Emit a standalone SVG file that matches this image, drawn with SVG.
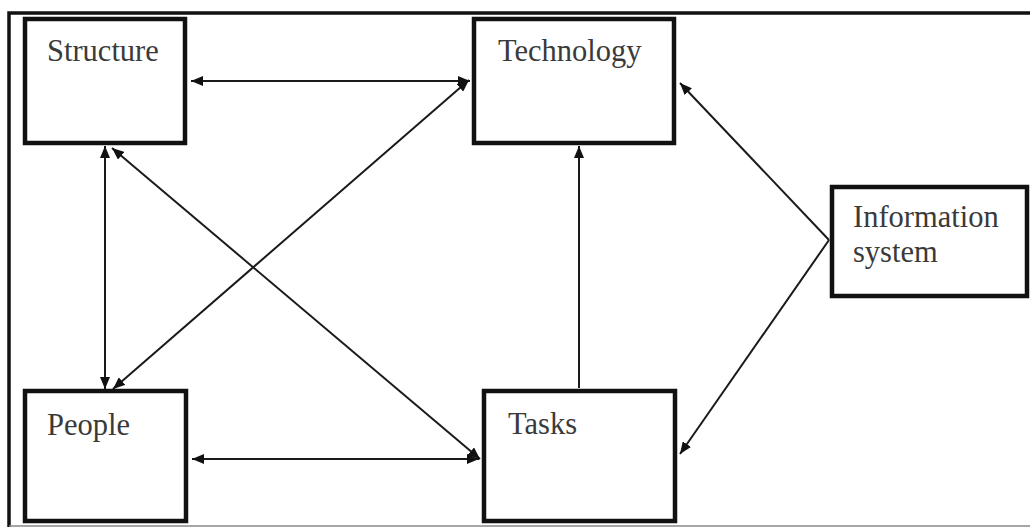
<svg xmlns="http://www.w3.org/2000/svg" width="1030" height="527" viewBox="0 0 1030 527">
  <style>
    .frame { fill: none; stroke: #111; stroke-width: 3.5; }
    .frame-base { fill: none; stroke: #888; stroke-width: 1.5; }
    .box { fill: #fff; stroke: #111; stroke-width: 4.5; }
    .label { font-family: "Liberation Serif", "Times New Roman", serif; font-size: 30.5px; fill: #3a3a3a; }
    .link { fill: none; stroke: #1a1a1a; stroke-width: 2; }
  </style>
  <defs>
    <marker id="head" viewBox="0 0 12 10" refX="12" refY="5" markerWidth="12" markerHeight="10" markerUnits="userSpaceOnUse" orient="auto-start-reverse">
      <path d="M0,0 L12,5 L0,10 Z" fill="#111"/>
    </marker>
  </defs>

  <rect width="1030" height="527" fill="#fff"/>
  <!-- outer border: open on the right -->
  <path class="frame" d="M1030,13 H9 V527"/>
  <line class="frame-base" x1="9" y1="526" x2="1030" y2="526"/>

  <!-- connectors -->
  <g id="connectors">
    <line class="link" x1="191" y1="81" x2="470" y2="81" marker-start="url(#head)" marker-end="url(#head)"/>
    <line class="link" x1="105" y1="146" x2="105" y2="389" marker-start="url(#head)" marker-end="url(#head)"/>
    <line class="link" x1="112" y1="148" x2="480" y2="459" marker-start="url(#head)" marker-end="url(#head)"/>
    <line class="link" x1="113" y1="389" x2="469" y2="80" marker-start="url(#head)" marker-end="url(#head)"/>
    <line class="link" x1="579" y1="388" x2="579" y2="146" marker-end="url(#head)"/>
    <line class="link" x1="192" y1="459" x2="479" y2="459" marker-start="url(#head)" marker-end="url(#head)"/>
    <line class="link" x1="829" y1="240" x2="680" y2="83" marker-end="url(#head)"/>
    <line class="link" x1="829" y1="240" x2="680" y2="454" marker-end="url(#head)"/>
  </g>

  <!-- nodes -->
  <g id="structure">
    <rect class="box" x="25" y="19" width="160" height="124"/>
    <text class="label" x="47" y="61">Structure</text>
  </g>
  <g id="technology">
    <rect class="box" x="474" y="19" width="200" height="124"/>
    <text class="label" x="498" y="61">Technology</text>
  </g>
  <g id="information-system">
    <rect class="box" x="832" y="187" width="195" height="109"/>
    <text class="label" x="853" y="227">Information</text>
    <text class="label" x="853" y="262">system</text>
  </g>
  <g id="people">
    <rect class="box" x="25" y="391" width="161" height="130"/>
    <text class="label" x="47" y="435">People</text>
  </g>
  <g id="tasks">
    <rect class="box" x="484" y="391" width="191" height="130"/>
    <text class="label" x="508" y="434">Tasks</text>
  </g>
</svg>
